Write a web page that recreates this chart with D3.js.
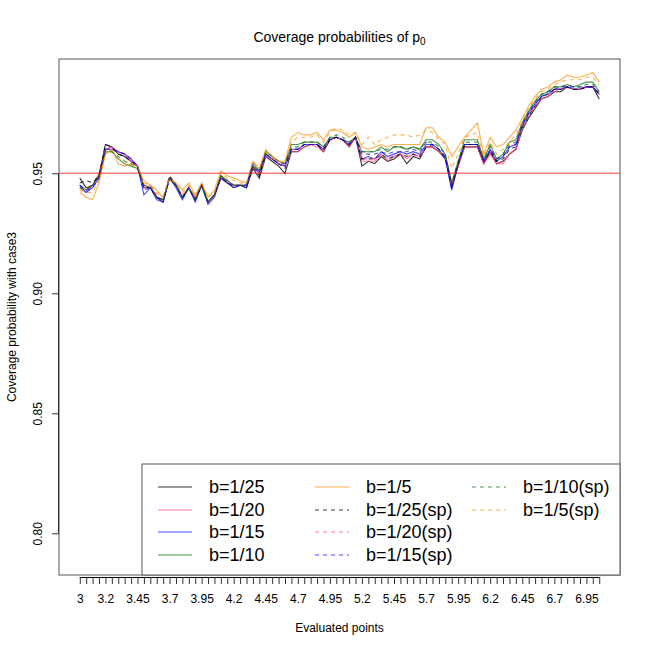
<!DOCTYPE html>
<meta charset="utf-8">
<script src="https://cdn.jsdelivr.net/npm/d3@7"></script>
<style>
  body { margin: 0; background: #fff; }
  text { font-family: "Liberation Sans", Arial, sans-serif; }
</style>
<div id="my_dataviz"></div>
<script>

// evaluated points (x)
var points = [3, 3.05, 3.1, 3.15, 3.2, 3.25, 3.3, 3.35, 3.4, 3.45,
  3.5, 3.55, 3.6, 3.65, 3.7, 3.75, 3.8, 3.85, 3.9, 3.95,
  4, 4.05, 4.1, 4.15, 4.2, 4.25, 4.3, 4.35, 4.4, 4.45,
  4.5, 4.55, 4.6, 4.65, 4.7, 4.75, 4.8, 4.85, 4.9, 4.95,
  5, 5.05, 5.1, 5.15, 5.2, 5.25, 5.3, 5.35, 5.4, 5.45,
  5.5, 5.55, 5.6, 5.65, 5.7, 5.75, 5.8, 5.85, 5.9, 5.95,
  6, 6.05, 6.1, 6.15, 6.2, 6.25, 6.3, 6.35, 6.4, 6.45,
  6.5, 6.55, 6.6, 6.65, 6.7, 6.75, 6.8, 6.85, 6.9, 6.95,
  7, 7.05];

// labels R kept on the x axis
var xLabels = [3, 3.2, 3.45, 3.7, 3.95, 4.2, 4.45, 4.7, 4.95, 5.2, 5.45, 5.7, 5.95, 6.2, 6.45, 6.7, 6.95];
var yTicks = [0.80, 0.85, 0.90, 0.95];

var b25 = [.948,.944,.945,.949,.962,.961,.958,.957,.955,.953,
  .944,.944,.940,.938,.948,.945,.940,.944,.939,.945,
  .938,.941,.949,.946,.944,.945,.944,.952,.948,.957,
  .955,.953,.950,.959,.959,.961,.962,.962,.959,.964,
  .965,.964,.961,.965,.953,.955,.954,.957,.955,.956,
  .958,.954,.957,.956,.961,.961,.959,.956,.944,.953,
  .961,.961,.961,.954,.959,.954,.955,.958,.960,.968,
  .973,.977,.981,.982,.984,.984,.986,.985,.985,.986,
  .986,.981];
var b20 = [.944,.942,.945,.950,.960,.961,.959,.958,.955,.953,
  .944,.945,.940,.939,.948,.945,.940,.944,.940,.945,
  .938,.941,.948,.946,.945,.945,.945,.953,.950,.957,
  .956,.954,.953,.959,.959,.961,.962,.961,.959,.964,
  .965,.964,.961,.965,.955,.955,.955,.958,.955,.957,
  .958,.956,.958,.957,.961,.961,.959,.957,.945,.953,
  .961,.961,.961,.954,.958,.954,.954,.958,.960,.969,
  .974,.978,.981,.982,.985,.985,.986,.985,.985,.986,
  .986,.983];
var b15 = [.945,.942,.944,.948,.960,.960,.959,.958,.956,.953,
  .941,.944,.939,.938,.948,.944,.939,.944,.938,.945,
  .937,.940,.948,.946,.944,.945,.944,.953,.950,.958,
  .956,.954,.953,.960,.960,.962,.962,.962,.960,.964,
  .965,.964,.962,.965,.956,.957,.956,.959,.957,.958,
  .959,.958,.959,.958,.962,.962,.960,.956,.943,.954,
  .962,.962,.962,.955,.960,.955,.957,.961,.962,.970,
  .975,.979,.982,.983,.985,.985,.986,.985,.985,.986,
  .986,.983];
var b10 = [.945,.943,.945,.949,.959,.959,.956,.954,.953,.952,
  .945,.944,.940,.939,.948,.945,.940,.944,.939,.945,
  .938,.941,.949,.947,.945,.945,.945,.953,.951,.959,
  .957,.955,.954,.962,.962,.963,.963,.963,.961,.965,
  .965,.964,.963,.965,.959,.959,.959,.961,.959,.961,
  .961,.960,.961,.960,.964,.964,.962,.958,.946,.955,
  .964,.964,.964,.956,.962,.956,.958,.963,.964,.971,
  .976,.980,.983,.984,.986,.986,.987,.986,.987,.988,
  .988,.984];
var b5 = [.942,.940,.939,.946,.958,.960,.954,.953,.954,.953,
  .947,.945,.943,.940,.948,.946,.943,.946,.941,.946,
  .940,.943,.951,.949,.948,.947,.946,.955,.952,.960,
  .957,.955,.955,.965,.967,.966,.966,.967,.964,.968,
  .968,.967,.965,.967,.961,.960,.961,.962,.961,.962,
  .962,.962,.962,.962,.969,.969,.965,.963,.957,.961,
  .965,.968,.971,.958,.965,.961,.962,.965,.968,.973,
  .978,.982,.985,.986,.988,.989,.991,.990,.990,.991,
  .992,.988];
var b25sp = [.946,.947,.946,.949,.962,.961,.958,.957,.955,.953,
  .944,.944,.940,.939,.949,.945,.940,.944,.939,.945,
  .938,.941,.948,.946,.945,.945,.945,.953,.949,.958,
  .956,.954,.952,.960,.960,.962,.962,.962,.960,.964,
  .965,.964,.962,.965,.956,.956,.956,.958,.956,.957,
  .958,.957,.958,.957,.961,.962,.960,.957,.945,.954,
  .962,.962,.962,.955,.959,.955,.956,.960,.961,.969,
  .974,.978,.982,.983,.985,.985,.986,.985,.985,.986,
  .986,.983];
var b20sp = [.944,.943,.945,.949,.960,.961,.959,.958,.955,.953,
  .945,.945,.941,.939,.948,.945,.941,.944,.940,.945,
  .938,.941,.948,.946,.945,.945,.945,.953,.950,.957,
  .956,.954,.953,.960,.960,.961,.962,.962,.960,.964,
  .965,.964,.962,.965,.956,.956,.956,.958,.956,.957,
  .958,.957,.958,.957,.961,.961,.959,.957,.945,.953,
  .961,.961,.961,.954,.959,.954,.955,.958,.960,.969,
  .974,.978,.981,.982,.984,.985,.986,.985,.985,.986,
  .986,.983];
var b15sp = [.945,.943,.944,.948,.960,.960,.959,.958,.956,.953,
  .943,.944,.940,.938,.948,.945,.940,.944,.939,.945,
  .938,.941,.948,.946,.945,.945,.945,.954,.951,.958,
  .956,.954,.954,.960,.960,.962,.962,.962,.960,.964,
  .965,.964,.962,.965,.958,.958,.958,.959,.958,.959,
  .959,.959,.960,.959,.963,.962,.960,.957,.944,.954,
  .962,.962,.962,.955,.960,.956,.957,.961,.962,.970,
  .975,.979,.982,.984,.985,.986,.986,.986,.986,.986,
  .986,.983];
var b10sp = [.944,.943,.945,.949,.959,.959,.957,.955,.954,.952,
  .945,.944,.940,.939,.948,.945,.940,.944,.939,.945,
  .938,.941,.949,.947,.945,.945,.945,.954,.951,.959,
  .957,.955,.954,.961,.961,.963,.963,.963,.961,.965,
  .966,.965,.963,.965,.959,.959,.959,.960,.960,.961,
  .961,.960,.961,.960,.963,.963,.961,.958,.946,.955,
  .963,.963,.963,.956,.961,.956,.958,.962,.963,.971,
  .976,.980,.983,.984,.986,.986,.987,.986,.986,.987,
  .987,.984];
var b5sp = [.943,.942,.942,.947,.958,.960,.956,.955,.954,.953,
  .946,.945,.942,.940,.948,.946,.942,.945,.940,.946,
  .940,.942,.950,.948,.947,.946,.946,.955,.952,.959,
  .957,.955,.955,.963,.965,.965,.965,.966,.963,.967,
  .969,.968,.966,.967,.962,.965,.962,.964,.965,.966,
  .966,.966,.965,.966,.968,.967,.964,.962,.952,.958,
  .965,.966,.967,.957,.963,.958,.960,.963,.966,.972,
  .977,.981,.984,.985,.987,.988,.989,.989,.989,.990,
  .990,.987];

var seriesNames = ["b=1/25", "b=1/20", "b=1/15", "b=1/10", "b=1/5",
  "b=1/25(sp)", "b=1/20(sp)", "b=1/15(sp)", "b=1/10(sp)", "b=1/5(sp)"];
var seriesValues = [b25, b20, b15, b10, b5, b25sp, b20sp, b15sp, b10sp, b5sp];
var target = 0.95;

var colors = ["#000000", "#ff3d8a", "#0000ff", "#006400", "#ff8c00"];

// plot region (R default margins on a 650x650 device)
var width = 650, height = 650;
var plotL = 59, plotR = 620, plotT = 59, plotB = 575;

var xScale = d3.scaleLinear().domain([2.838, 7.212]).range([plotL, plotR]);
var yScale = d3.scaleLinear().domain([0.78263, 0.99763]).range([plotB, plotT]);

var svg = d3.select("#my_dataviz")
  .append("svg")
    .attr("width", width)
    .attr("height", height);

svg.append("clipPath").attr("id", "plotclip")
  .append("rect")
    .attr("x", plotL).attr("y", plotT)
    .attr("width", plotR - plotL).attr("height", plotB - plotT);

var line = d3.line()
  .x(function(d, i) { return xScale(points[i]); })
  .y(function(d) { return yScale(d); });

var plot = svg.append("g").attr("clip-path", "url(#plotclip)");

// series lines
seriesValues.forEach(function(vals, k) {
  plot.append("path")
    .datum(vals)
    .attr("d", line)
    .attr("fill", "none")
    .attr("stroke", colors[k % 5])
    .attr("stroke-opacity", k % 5 == 0 ? 0.8 : 0.7)
    .attr("stroke-width", 1.1)
    .attr("stroke-dasharray", k >= 5 ? "4,4" : null);
});

// reference line at 0.95
plot.append("line")
  .attr("x1", plotL).attr("x2", plotR)
  .attr("y1", yScale(target)).attr("y2", yScale(target))
  .attr("stroke", "#ff0000")
  .attr("stroke-opacity", 0.5)
  .attr("stroke-width", 1.5);

// x axis
var xAxis = d3.axisBottom(xScale)
  .tickValues(points)
  .tickSize(7)
  .tickFormat(function(d) {
    var hit = xLabels.filter(function(l) { return Math.abs(l - d) < 1e-6; });
    return hit.length ? d3.format("")(hit[0]) : "";
  });

var gx = svg.append("g")
  .attr("transform", "translate(0," + (plotB + 2) + ")")
  .call(xAxis);
gx.select(".domain").attr("d", "M" + xScale(points[0]) + ",0.5H" + xScale(points[points.length - 1]));
gx.selectAll(".tick line").attr("stroke", "#333");
gx.selectAll("text").attr("font-size", "12px").attr("fill", "#000").attr("dy", "1.3em");

// y axis
var yAxis = d3.axisLeft(yScale)
  .tickValues(yTicks)
  .tickSize(7)
  .tickFormat(d3.format(".2f"));

var gy = svg.append("g")
  .attr("transform", "translate(" + plotL + ",0)")
  .call(yAxis);
gy.select(".domain").attr("d", "M-0.5," + yScale(0.80) + "V" + yScale(0.95));
gy.selectAll(".tick line").attr("stroke", "#333");
gy.selectAll("text")
  .attr("font-size", "12px")
  .attr("fill", "#000")
  .attr("x", null).attr("dy", null)
  .attr("text-anchor", "middle")
  .attr("transform", "translate(-17,0) rotate(-90)");

// plot box
svg.append("rect")
  .attr("x", plotL).attr("y", plotT)
  .attr("width", plotR - plotL).attr("height", plotB - plotT)
  .attr("fill", "none")
  .attr("stroke", "#555")
  .attr("stroke-width", 1);

// titles
var title = svg.append("text")
  .attr("x", (plotL + plotR) / 2)
  .attr("y", 42)
  .attr("text-anchor", "middle")
  .attr("font-size", "14px");
title.append("tspan").text("Coverage probabilities of p");
title.append("tspan").attr("font-size", "10px").attr("dy", "3").text("0");

svg.append("text")
  .attr("x", (plotL + plotR) / 2)
  .attr("y", 632)
  .attr("text-anchor", "middle")
  .attr("font-size", "12px")
  .text("Evaluated points");

svg.append("text")
  .attr("transform", "translate(16," + ((plotT + plotB) / 2) + ") rotate(-90)")
  .attr("text-anchor", "middle")
  .attr("font-size", "12px")
  .text("Coverage probability with case3");

// legend
var legend = svg.append("g");
legend.append("rect")
  .attr("x", 142).attr("y", 464)
  .attr("width", plotR - 142).attr("height", plotB - 464)
  .attr("fill", "#fff")
  .attr("stroke", "#555");

var colX = [158, 315, 472];
var rowY = [487, 510, 532, 555];
seriesNames.forEach(function(name, k) {
  var c = Math.floor(k / 4), r = k % 4;
  legend.append("line")
    .attr("x1", colX[c]).attr("x2", colX[c] + 34)
    .attr("y1", rowY[r]).attr("y2", rowY[r])
    .attr("stroke", colors[k % 5])
    .attr("stroke-opacity", k % 5 == 0 ? 0.8 : 0.7)
    .attr("stroke-width", 1.1)
    .attr("stroke-dasharray", k >= 5 ? "4,4" : null);
  legend.append("text")
    .attr("x", colX[c] + 51)
    .attr("y", rowY[r])
    .attr("dy", "0.35em")
    .attr("font-size", "18px")
    .text(name);
});

</script>
